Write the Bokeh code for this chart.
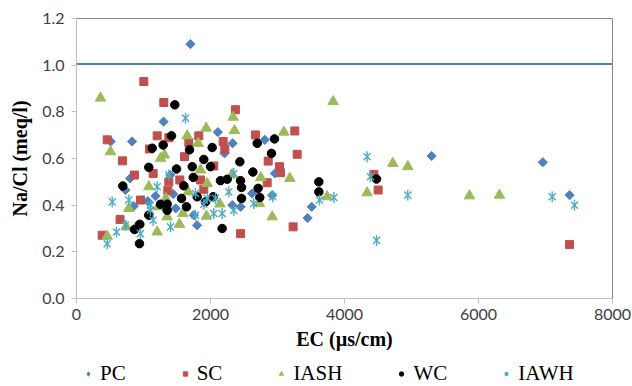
import numpy as np
from bokeh.plotting import figure
from bokeh.layouts import column
from bokeh.models import Span, Legend, LegendItem, NumeralTickFormatter, FixedTicker, Range1d
from bokeh.embed import file_html
from bokeh.resources import INLINE

# ---- data (EC in µs/cm, Na/Cl in meq/l) ----
pc_ec = [1700, 1300, 830, 510, 2110, 2330, 2210, 800, 730, 1180, 1065, 856, 1800, 1480,
         1400, 1750, 2620, 2450, 2810, 2960, 2920, 3510, 3450, 5300, 6960, 7360, 1445, 2325]
pc_ratio = [1.09, 0.758, 0.673, 0.673, 0.713, 0.665, 0.622, 0.515, 0.465, 0.439, 0.417, 0.396,
            0.314, 0.386, 0.529, 0.357, 0.450, 0.393, 0.680, 0.536, 0.443, 0.393, 0.345,
            0.611, 0.584, 0.443, 0.447, 0.400]

sc_ec = [1005, 458, 1303, 687, 866, 1204, 1378, 1090, 1825, 1677, 1612, 2189, 2214, 2372,
         2671, 2049, 1144, 1542, 1851, 1378, 1363, 1900, 955, 650, 383, 2448, 3258, 3293,
         2861, 3030, 3045, 2846, 3233, 4438, 4502, 7358]
sc_ratio = [0.930, 0.680, 0.840, 0.590, 0.529, 0.697, 0.689, 0.641, 0.697, 0.668, 0.608, 0.673,
            0.640, 0.809, 0.701, 0.568, 0.536, 0.508, 0.508, 0.500, 0.462, 0.468, 0.422, 0.339,
            0.271, 0.278, 0.718, 0.618, 0.589, 0.565, 0.539, 0.496, 0.307, 0.532, 0.465, 0.231]

iash_ec = [358, 507, 1652, 1935, 1816, 2338, 2358, 1254, 1313, 1851, 1667, 1950, 2324, 1079,
           2750, 781, 1587, 1353, 1940, 2140, 1204, 1537, 742, 458, 2730, 3831, 3094, 3184,
           4721, 4338, 3741, 2921, 4945, 5866, 6313, 1219, 1333, 886]
iash_ratio = [0.859, 0.629, 0.697, 0.730, 0.665, 0.777, 0.720, 0.601, 0.615, 0.551, 0.457, 0.493,
              0.532, 0.479, 0.518, 0.386, 0.364, 0.350, 0.353, 0.405, 0.285, 0.318, 0.307, 0.267,
              0.407, 0.844, 0.713, 0.515, 0.579, 0.453, 0.436, 0.350, 0.565, 0.440, 0.443,
              0.393, 0.429, 0.304]

wc_ec = [1467, 1130, 1294, 1418, 1687, 2025, 2697, 1079, 1493, 1727, 1900, 2438, 2632, 691,
         1742, 1602, 2149, 2249, 2448, 2463, 2711, 2736, 1254, 1353, 1801, 1642, 1925, 2040,
         2463, 1079, 945, 866, 2174, 940, 2955, 2910, 2000, 3617, 3617, 4478, 1353, 1567]
wc_ratio = [0.830, 0.644, 0.658, 0.697, 0.637, 0.647, 0.665, 0.562, 0.555, 0.565, 0.596, 0.586,
            0.542, 0.482, 0.519, 0.483, 0.505, 0.511, 0.505, 0.476, 0.472, 0.433, 0.404, 0.404,
            0.436, 0.393, 0.414, 0.436, 0.429, 0.357, 0.318, 0.296, 0.300, 0.235, 0.684, 0.622,
            0.565, 0.500, 0.457, 0.512, 0.378, 0.429]

iawh_ec = [1627, 533, 781, 1204, 1378, 1104, 731, 597, 458, 955, 1403, 1776, 2049, 2348,
           2273, 2646, 1950, 1144, 1104, 1776, 2174, 2075, 1900, 2348, 2930, 4338, 3627,
           3841, 4478, 4388, 4945, 7100, 7433]
iawh_ratio = [0.773, 0.414, 0.422, 0.479, 0.529, 0.378, 0.314, 0.285, 0.235, 0.278, 0.307,
              0.357, 0.364, 0.378, 0.457, 0.407, 0.429, 0.335, 0.400, 0.450, 0.364, 0.429,
              0.404, 0.536, 0.436, 0.608, 0.422, 0.433, 0.249, 0.522, 0.443, 0.436, 0.400]

series_names = ["PC", "SC", "IASH", "WC", "IAWH"]
ref_ratio = 1.005
x_ticks = [0, 2000, 4000, 6000, 8000]
y_ticks = [0.0, 0.2, 0.4, 0.6, 0.8, 1.0, 1.2]

BLUE, RED, GREEN, BLACK, CYAN = "#4F81BD", "#C0504D", "#9BBB59", "#000000", "#4BACC6"

p = figure(width=632, height=354, output_backend="svg", toolbar_location=None,
           x_range=Range1d(0, 8000), y_range=Range1d(0, 1.2),
           min_border_left=76, min_border_right=20, min_border_top=18, min_border_bottom=56)
p.background_fill_color = "white"
p.border_fill_color = "white"
p.outline_line_color = "#868686"
p.xgrid.visible = False
p.ygrid.visible = False

p.add_layout(Span(location=ref_ratio, dimension="width", line_color=BLUE, line_width=2))

p.scatter(pc_ec, pc_ratio, marker="square", angle=np.pi / 4, size=6.5,
          fill_color=BLUE, line_color=BLUE)
p.scatter(sc_ec, sc_ratio, marker="square", size=8, fill_color=RED, line_color=RED)
p.scatter(iash_ec, iash_ratio, marker="triangle", size=10.5, fill_color=GREEN, line_color=GREEN)
p.scatter(wc_ec, wc_ratio, marker="circle", size=8.5, fill_color=BLACK, line_color=BLACK)
p.scatter(iawh_ec, iawh_ratio, marker="x", size=10, line_color=CYAN, line_width=1.4)
p.scatter(iawh_ec, iawh_ratio, marker="dash", angle=np.pi / 2, size=11,
          line_color=CYAN, line_width=1.4)

for ax in (p.xaxis, p.yaxis):
    ax.axis_line_color = "#BFBFBF"
    ax.major_tick_line_color = "#BFBFBF"
    ax.major_tick_out = 5
    ax.major_tick_in = 0
    ax.minor_tick_line_color = None
    ax.major_label_text_font = "Lato"
    ax.major_label_text_font_size = "16px"
    ax.major_label_text_color = "#404040"
    ax.axis_label_text_font = "Liberation Serif"
    ax.axis_label_text_font_style = "bold"
    ax.axis_label_text_font_size = "20px"
    ax.axis_label_text_color = "#000000"

p.xaxis.ticker = FixedTicker(ticks=x_ticks)
p.yaxis.ticker = FixedTicker(ticks=y_ticks)
p.xaxis.formatter = NumeralTickFormatter(format="0")
p.yaxis.formatter = NumeralTickFormatter(format="0.0")
p.xaxis.axis_label = "EC (µs/cm)"
p.yaxis.axis_label = "Na/Cl (meq/l)"
p.xaxis.major_label_standoff = 5
p.xaxis.axis_label_standoff = 5
p.yaxis.major_label_standoff = 7
p.yaxis.axis_label_standoff = 8

# ---- legend strip below the chart (its frame aligns with the chart frame) ----
pl = figure(width=632, height=32, output_backend="svg", toolbar_location=None,
            x_range=Range1d(0, 1), y_range=Range1d(0, 1),
            x_axis_location=None, y_axis_location=None,
            min_border_left=76, min_border_right=0, min_border_top=0, min_border_bottom=0)
pl.outline_line_color = None
pl.grid.visible = False
pl.background_fill_color = "white"
pl.border_fill_color = "white"

nan = [float("nan")]
g_pc = pl.scatter(nan, nan, marker="diamond", fill_color=BLUE, line_color=BLUE)
g_sc = pl.scatter(nan, nan, marker="square", fill_color=RED, line_color=RED)
g_iash = pl.scatter(nan, nan, marker="triangle", fill_color=GREEN, line_color=GREEN)
g_wc = pl.scatter(nan, nan, marker="circle", fill_color=BLACK, line_color=BLACK)
g_iawh = pl.scatter(nan, nan, marker="asterisk", line_color=CYAN, line_width=1.2)

legend = Legend(items=[LegendItem(label=n, renderers=[g])
                       for n, g in zip(series_names, [g_pc, g_sc, g_iash, g_wc, g_iawh])],
                location=(0, 0), orientation="horizontal", spacing=47,
                glyph_width=24, glyph_height=11, label_standoff=0, padding=0, margin=0,
                border_line_color=None, background_fill_alpha=0,
                label_text_font="Liberation Serif", label_text_font_size="21px",
                label_text_color="#000000")
pl.add_layout(legend)

layout = column(p, pl, spacing=0)
open("out.html", "w").write(file_html(layout, INLINE))
